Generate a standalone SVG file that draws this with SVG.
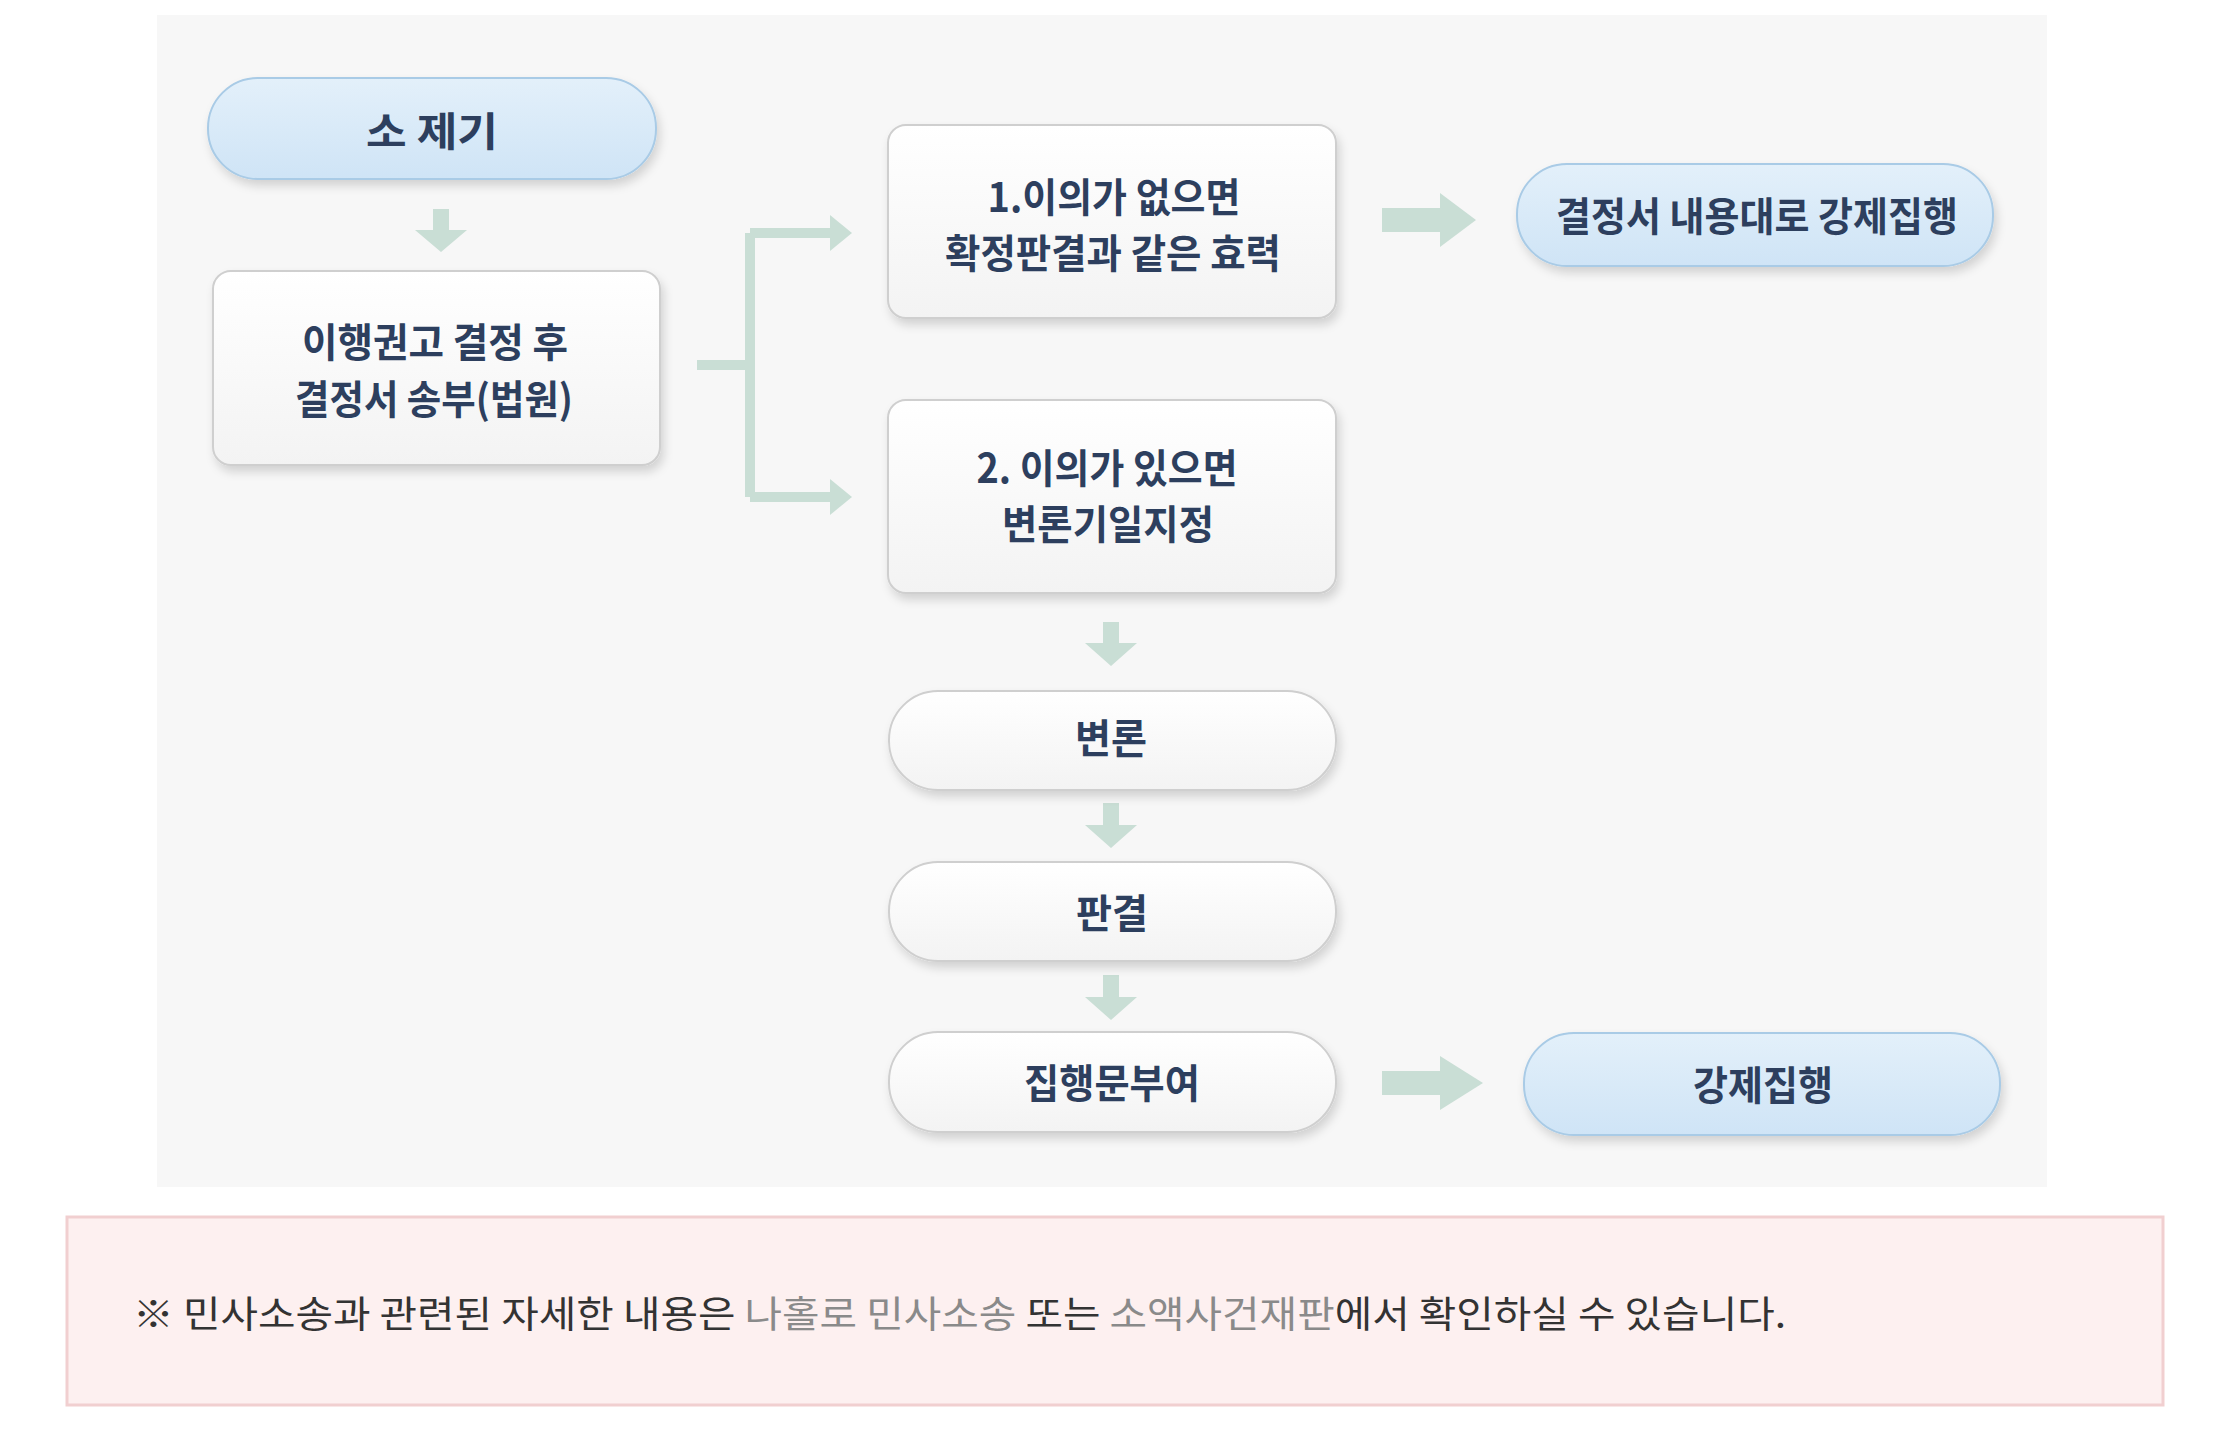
<svg xmlns="http://www.w3.org/2000/svg" width="2229" height="1440" viewBox="0 0 2229 1440">
<style>
.t{font-family:"Noto Sans CJK KR","Noto Sans",sans-serif;font-weight:700;fill:#2d3f5e;font-size:40px;text-anchor:middle}
.box{fill:url(#wg);stroke:#cfcfcf;stroke-width:2;filter:url(#sh)}
.pill{fill:url(#bg);stroke:#a9cbe6;stroke-width:2;filter:url(#sh)}
.ar{fill:#c9ded5}
.note{font-family:"Noto Sans CJK KR","Noto Sans",sans-serif;font-size:37px;fill:#333}
.lk{fill:#8a8a8a}
</style>
<defs>
<linearGradient id="wg" x1="0" y1="0" x2="0" y2="1"><stop offset="0" stop-color="#ffffff"/><stop offset="1" stop-color="#f3f3f3"/></linearGradient>
<linearGradient id="bg" x1="0" y1="0" x2="0" y2="1"><stop offset="0" stop-color="#e3f0fa"/><stop offset="1" stop-color="#cfe4f6"/></linearGradient>
<filter id="sh" x="-10%" y="-20%" width="120%" height="150%"><feDropShadow dx="3" dy="6" stdDeviation="5" flood-color="#000" flood-opacity="0.15"/></filter>
</defs>
<rect x="157" y="15" width="1890" height="1172" fill="#f7f7f7"/>
<g id="connectors">
<polygon class="ar" points="433,209 449,209 449,230 467,230 441,252 415,230 433,230"/>
<path d="M697,365 H750 M750,233 V497 M750,233 H835 M750,497 H835" stroke="#c9ded5" stroke-width="10" fill="none"/>
<polygon class="ar" points="830,215 852,233 830,251"/>
<polygon class="ar" points="830,479 852,497 830,515"/>
<polygon class="ar" points="1382,208 1440,208 1440,193 1476,220 1440,247 1440,232 1382,232"/>
<polygon class="ar" points="1103,622 1119,622 1119,643 1137,643 1111,666 1085,643 1103,643"/>
<polygon class="ar" points="1103,803 1119,803 1119,825 1137,825 1111,848 1085,825 1103,825"/>
<polygon class="ar" points="1103,975 1119,975 1119,997 1137,997 1111,1020 1085,997 1103,997"/>
<polygon class="ar" points="1382,1071 1440,1071 1440,1056 1483,1083 1440,1110 1440,1095 1382,1095"/>
</g>
<g id="n1"><rect class="pill" x="208" y="78" width="448" height="101" rx="50"/><text class="t" x="432" y="146" font-size="44" textLength="132" lengthAdjust="spacingAndGlyphs">소 제기</text></g>
<g id="n2"><rect class="box" x="213" y="271" width="447" height="194" rx="18"/><text class="t" x="435" y="357" textLength="266" lengthAdjust="spacingAndGlyphs">이행권고 결정 후</text><text class="t" x="434" y="414" textLength="278" lengthAdjust="spacingAndGlyphs">결정서 송부(법원)</text></g>
<g id="n3"><rect class="box" x="888" y="125" width="448" height="193" rx="18"/><text class="t" x="1114" y="212" textLength="253" lengthAdjust="spacingAndGlyphs">1.이의가 없으면</text><text class="t" x="1113" y="268" textLength="336" lengthAdjust="spacingAndGlyphs">확정판결과 같은 효력</text></g>
<g id="n4"><rect class="box" x="888" y="400" width="448" height="193" rx="18"/><text class="t" x="1107" y="483" textLength="261" lengthAdjust="spacingAndGlyphs">2. 이의가 있으면</text><text class="t" x="1108" y="539" textLength="212" lengthAdjust="spacingAndGlyphs">변론기일지정</text></g>
<g id="n5"><rect class="pill" x="1517" y="164" width="476" height="102" rx="50"/><text class="t" x="1757" y="231" textLength="402" lengthAdjust="spacingAndGlyphs">결정서 내용대로 강제집행</text></g>
<g id="n6"><rect class="box" x="889" y="691" width="447" height="99" rx="49"/><text class="t" x="1111" y="753" textLength="72" lengthAdjust="spacingAndGlyphs">변론</text></g>
<g id="n7"><rect class="box" x="889" y="862" width="447" height="99" rx="49"/><text class="t" x="1112" y="928" textLength="72" lengthAdjust="spacingAndGlyphs">판결</text></g>
<g id="n8"><rect class="box" x="889" y="1032" width="447" height="100" rx="49"/><text class="t" x="1112" y="1098" textLength="176" lengthAdjust="spacingAndGlyphs">집행문부여</text></g>
<g id="n9"><rect class="pill" x="1524" y="1033" width="476" height="102" rx="50"/><text class="t" x="1763" y="1100" textLength="140" lengthAdjust="spacingAndGlyphs">강제집행</text></g>
<rect x="67" y="1217" width="2096" height="188" fill="#fdf0f0" stroke="#f1cfd0" stroke-width="3"/>
<text class="note" x="133" y="1328" textLength="1653" lengthAdjust="spacingAndGlyphs">※ 민사소송과 관련된 자세한 내용은 <tspan class="lk">나홀로 민사소송</tspan> 또는 <tspan class="lk">소액사건재판</tspan>에서 확인하실 수 있습니다.</text>
</svg>
